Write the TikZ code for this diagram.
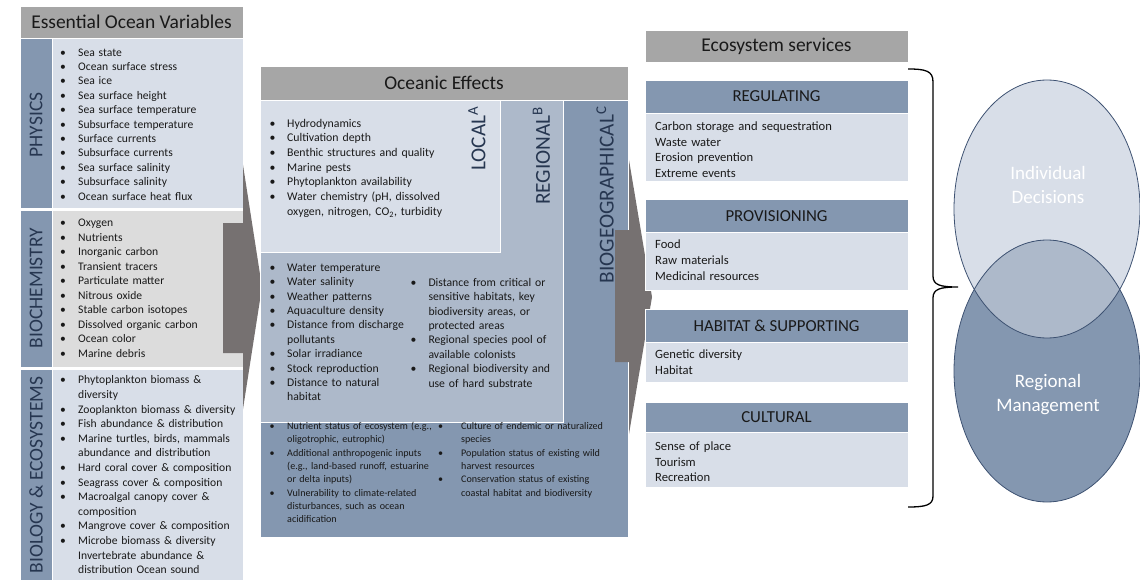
\documentclass[tikz,border=0pt]{standalone}
\usepackage{fontspec}
\setmainfont{Carlito}
\usepackage{xcolor}
\usetikzlibrary{positioning}

\definecolor{hdrgray}{HTML}{A6A6A6}
\definecolor{paleblue}{HTML}{D8DEE8}
\definecolor{midblue}{HTML}{ADB9CA}
\definecolor{deepblue}{HTML}{8497B0}
\definecolor{palegray}{HTML}{DCDCDC}
\definecolor{arrowgray}{HTML}{767171}
\definecolor{navytext}{HTML}{263650}
\definecolor{rimblue}{HTML}{3E5272}

\newlength\bulw
\setlength\bulw{18pt}
\newcommand\itm{\par\noindent\hangindent=\bulw\hangafter=1\makebox[\bulw][l]{\textbullet}\strut}
\newcommand\nob{\par\noindent\hangindent=\bulw\hangafter=0\strut}

\begin{document}
\begin{tikzpicture}[x=1pt, y=-1pt,
    box/.style={inner sep=0pt, outer sep=0pt, draw=white, line width=0.8pt},
    hdr/.style={box, fill=hdrgray, text=black!90, font=\fontsize{19.5}{22}\selectfont},
    strip/.style={box, fill=deepblue, minimum width=32},
    side/.style={rotate=90, text=navytext, font=\fontsize{19.5}{22}\selectfont},
    tier/.style={rotate=90, text=navytext, font=\fontsize{21.3}{24}\selectfont, anchor=east},
    lst/.style={anchor=north west, inner sep=0pt, align=left, text width=#1, text=black!90},
    svc/.style={box, fill=deepblue, minimum width=263, minimum height=33, text=black!90, font=\fontsize{16.8}{19}\selectfont},
    svcbody/.style={box, fill=paleblue, minimum width=263},
    venn/.style={text=white, align=center, font=\fontsize{19}{24}\selectfont}]
\useasboundingbox (0,0) rectangle (1140,580);

% essential ocean variables
\node[hdr, minimum width=223, minimum height=32] (eov) at (131.5,22) {Essential Ocean Variables};
\node[strip, minimum height=170] (physstrip) at (36,123) {};
\node[box, fill=paleblue, minimum width=191, minimum height=170] (physbox) at (147.5,123) {};
\node[strip, minimum height=157] (biochstrip) at (36,288.5) {};
\node[box, fill=palegray, minimum width=191, minimum height=157] (biochbox) at (147.5,288.5) {};
\node[strip, minimum height=215] (biostrip) at (36,476.5) {};
\node[box, fill=paleblue, minimum width=191, minimum height=215] (biobox) at (147.5,476.5) {};
\node[side] (phys) at (36,125) {PHYSICS};
\node[side] (bioch) at (36,288) {BIOCHEMISTRY};
\node[side] (bio) at (36,475) {BIOLOGY \& ECOSYSTEMS};

\node[lst=200, font=\fontsize{11.6}{14.4}\selectfont] (physlist) at (60,41.5) {%
\itm Sea state
\itm Ocean surface stress
\itm Sea ice
\itm Sea surface height
\itm Sea surface temperature
\itm Subsurface temperature
\itm Surface currents
\itm Subsurface currents
\itm Sea surface salinity
\itm Subsurface salinity
\itm Ocean surface heat flux\par};
\node[lst=200, font=\fontsize{11.6}{14.55}\selectfont] (biochlist) at (60,211.8) {%
\itm Oxygen
\itm Nutrients
\itm Inorganic carbon
\itm Transient tracers
\itm Particulate matter
\itm Nitrous oxide
\itm Stable carbon isotopes
\itm Dissolved organic carbon
\itm Ocean color
\itm Marine debris\par};
\node[lst=200, font=\fontsize{11.6}{14.6}\selectfont] (biolist) at (60,369) {%
\itm Phytoplankton biomass \&\newline diversity
\itm Zooplankton biomass \& diversity
\itm Fish abundance \& distribution
\itm Marine turtles, birds, mammals\newline abundance and distribution
\itm Hard coral cover \& composition
\itm Seagrass cover \& composition
\itm Macroalgal canopy cover \&\newline composition
\itm Mangrove cover \& composition
\itm Microbe biomass \& diversity
\nob Invertebrate abundance \&\newline distribution Ocean sound\par};

\fill[arrowgray] (223,223) -- (243,223) -- (243,165) -- (262,287) -- (243,409) -- (243,353) -- (223,353) -- cycle;

% oceanic effects
\node[hdr, minimum width=368, minimum height=34] (oe) at (444,83) {Oceanic Effects};
\node[box, fill=deepblue, minimum width=368, minimum height=437] (biogeo) at (444,318.5) {};
\node[box, fill=midblue, minimum width=303, minimum height=322] (regional) at (411.5,261) {};
\node[box, fill=paleblue, minimum width=240, minimum height=152] (local) at (380,176) {};
\node[tier] (localtag) at (477,103) {LOCAL\textsuperscript{A}};
\node[tier] (regtag) at (541.5,103) {REGIONAL\textsuperscript{B}};
\node[tier] (biogeotag) at (605,103) {BIOGEOGRAPHICAL\textsuperscript{C}};

\node[lst=220, font=\fontsize{11.8}{14.7}\selectfont] (locallist) at (269.5,112.3) {\setlength\bulw{17.5pt}%
\itm Hydrodynamics
\itm Cultivation depth
\itm Benthic structures and quality
\itm Marine pests
\itm Phytoplankton availability
\itm Water chemistry (pH, dissolved\newline oxygen, nitrogen, CO\textsubscript{2}, turbidity\par};
\node[lst=150, font=\fontsize{11.7}{14.4}\selectfont] (reglistA) at (269.5,256.6) {\setlength\bulw{17.5pt}%
\itm Water temperature
\itm Water salinity
\itm Weather patterns
\itm Aquaculture density
\itm Distance from discharge\newline pollutants
\itm Solar irradiance
\itm Stock reproduction
\itm Distance to natural\newline habitat\par};
\node[lst=160, font=\fontsize{11.7}{14.4}\selectfont] (reglistB) at (410.5,271.6) {\setlength\bulw{17.8pt}%
\itm Distance from critical or\newline sensitive habitats, key\newline biodiversity areas, or\newline protected areas
\itm Regional species pool of\newline available colonists
\itm Regional biodiversity and\newline use of hard substrate\par};
\node[lst=190, font=\fontsize{10.1}{13.3}\selectfont] (geolistA) at (269.5,416) {\setlength\bulw{17.5pt}%
\itm Nutrient status of ecosystem (e.g.,\newline oligotrophic, eutrophic)
\itm Additional anthropogenic inputs\newline (e.g., land-based runoff, estuarine\newline or delta inputs)
\itm Vulnerability to climate-related\newline disturbances, such as ocean\newline acidification\par};
\node[lst=190, font=\fontsize{10.1}{13.3}\selectfont] (geolistB) at (438,416) {\setlength\bulw{23pt}%
\itm Culture of endemic or naturalized\newline species
\itm Population status of existing wild\newline harvest resources
\itm Conservation status of existing\newline coastal habitat and biodiversity\par};

\fill[arrowgray] (615,230) -- (629,230) -- (629,160) -- (652,297) -- (629,434) -- (629,362) -- (615,362) -- cycle;

% ecosystem services
\node[hdr, minimum width=263, minimum height=32] (es) at (776.5,46) {Ecosystem services};
\node[svc] (regulating) at (776.5,96.5) {REGULATING};
\node[svcbody, minimum height=68] (regbody) at (776.5,147) {};
\node[svc] (provisioning) at (776.5,216) {PROVISIONING};
\node[svcbody, minimum height=58] (provbody) at (776.5,261) {};
\node[svc] (habitat) at (776.5,326) {HABITAT \& SUPPORTING};
\node[svcbody, minimum height=40] (habbody) at (776.5,362) {};
\node[svc, minimum height=30] (cultural) at (776.5,417) {CULTURAL};
\node[svcbody, minimum height=55] (cultbody) at (776.5,459.5) {};
\node[lst=240, font=\fontsize{12.6}{15.5}\selectfont] (reglines) at (655,119.5) {\strut Carbon storage and sequestration\\Waste water\\Erosion prevention\\Extreme events};
\node[lst=240, font=\fontsize{12.6}{15.8}\selectfont] (provlines) at (655,237.7) {\strut Food\\Raw materials\\Medicinal resources};
\node[lst=240, font=\fontsize{12.6}{15.7}\selectfont] (hablines) at (655,347.7) {\strut Genetic diversity\\Habitat};
\node[lst=240, font=\fontsize{12.6}{15.5}\selectfont] (cultlines) at (655,439.5) {\strut Sense of place\\Tourism\\Recreation};

\draw[line width=1.3pt] (908,69) .. controls (926,69) and (933,71) .. (933,82) -- (933,276) .. controls (933,285) and (940,287) .. (958,287) .. controls (940,287) and (933,289) .. (933,298) -- (933,496) .. controls (933,505) and (926,507) .. (908,507);

% decision levels
\fill[paleblue] (1047,209) ellipse [x radius=93, y radius=129];
\fill[deepblue] (1047,371) ellipse [x radius=93, y radius=131];
\begin{scope}
\clip (1047,209) ellipse [x radius=93, y radius=129];
\fill[midblue] (1047,371) ellipse [x radius=93, y radius=131];
\end{scope}
\draw[rimblue, line width=0.8pt] (1047,209) ellipse [x radius=93, y radius=129];
\draw[rimblue, line width=0.8pt] (1047,371) ellipse [x radius=93, y radius=131];
\node[venn] (indiv) at (1048,185) {Individual\\Decisions};
\node[venn] (regman) at (1048,395) {Regional\\Management};
\end{tikzpicture}
\end{document}
